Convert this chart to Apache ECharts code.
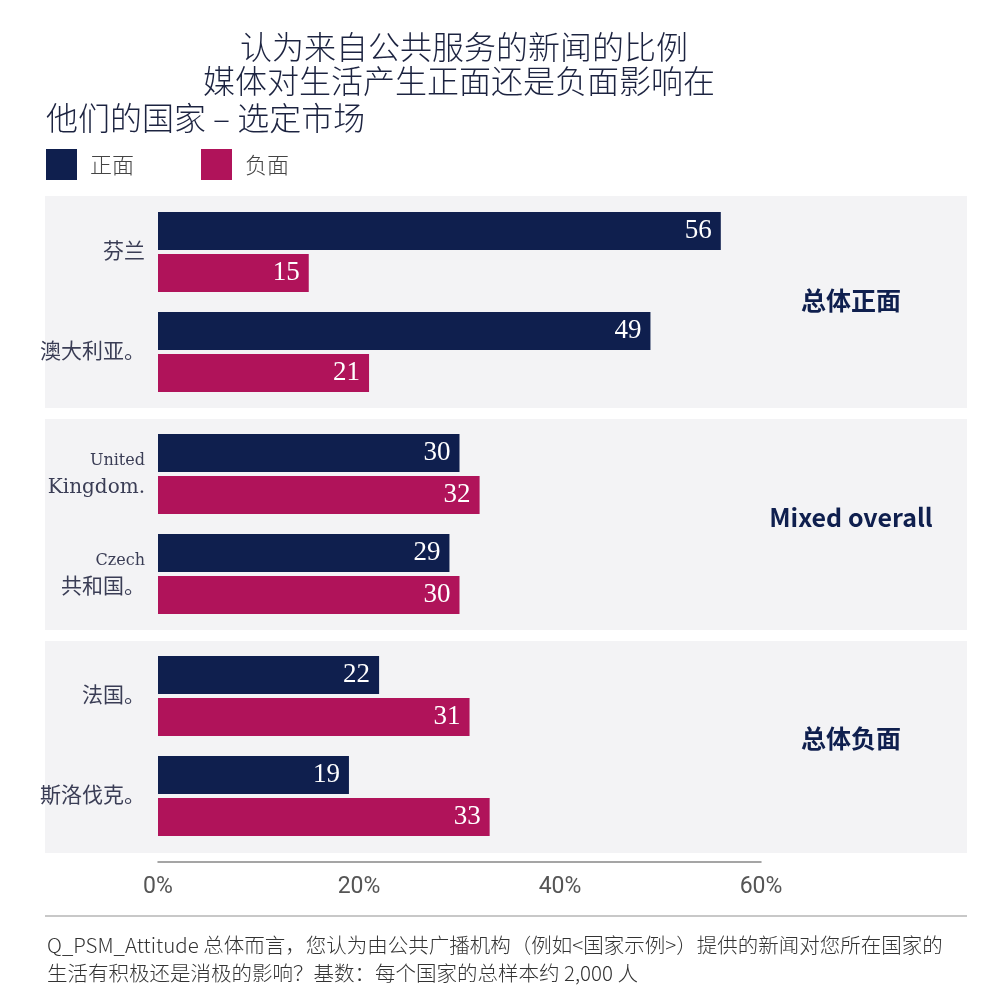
<!DOCTYPE html>
<html>
<head>
<meta charset="utf-8">
<script src="https://cdn.jsdelivr.net/npm/echarts@6/dist/echarts.min.js"></script>
<style>
  html, body { margin: 0; padding: 0; background: #fff; }
  #chart { width: 987px; height: 997px; }
</style>
</head>
<body>
<div id="chart"></div>
<script>
(function () {
  // 数据
  var groupNames = ['总体正面', 'Mixed overall', '总体负面'];
  var countries = [
    ['芬兰', '澳大利亚。'],
    ['United Kingdom.', 'Czech 共和国。'],
    ['法国。', '斯洛伐克。']
  ];
  var positive = [[56, 49], [30, 29], [22, 19]];
  var negative = [[15, 21], [32, 30], [31, 33]];
  var seriesNames = ['正面', '负面'];
  var xTicks = [0, 20, 40, 60];

  var NAVY = '#0f1f4e';
  var MAGENTA = '#b0135a';
  var PANEL = '#f3f3f5';
  var SERIF = '"Liberation Serif", "DejaVu Serif", "Noto Sans CJK SC", serif';
  var LATIN_SERIF = '"DejaVu Serif", "Liberation Serif", "Noto Sans CJK SC", serif';
  var CJK = '"Noto Sans CJK SC", sans-serif';

  var panelTops = [196, 419, 641];
  var panelHeights = [212, 211, 212];
  var groupLabelY = [300, 517, 738];
  var gridTops = [202, 424, 646];

  var chart = echarts.init(document.getElementById('chart'));

  function countryLabel(value) {
    var parts = value.split(' ');
    if (parts.length > 1) {
      var rest = parts.slice(1).join(' ');
      var style = /[A-Za-z]/.test(rest) ? 'll' : 'l';
      return '{s|' + parts[0] + '}\n{' + style + '|' + rest + '}';
    }
    return '{l|' + value + '}';
  }

  var grids = [];
  var xAxes = [];
  var yAxes = [];
  var series = [];
  var graphics = [];

  panelTops.forEach(function (top, i) {
    graphics.push({
      type: 'rect',
      z: -10,
      shape: { x: 45, y: top, width: 922, height: panelHeights[i] },
      style: { fill: PANEL }
    });
    graphics.push({
      type: 'text',
      x: 851,
      y: groupLabelY[i],
      style: {
        text: groupNames[i],
        fill: NAVY,
        font: 'bold 25px ' + CJK,
        textAlign: 'center',
        textVerticalAlign: 'middle'
      }
    });
  });

  gridTops.forEach(function (top, i) {
    var isLast = i === gridTops.length - 1;
    grids.push({ left: 158, width: 603, top: top, height: 200, containLabel: false });
    xAxes.push({
      gridIndex: i,
      type: 'value',
      min: 0,
      max: 60,
      interval: 20,
      show: isLast,
      offset: 16,
      axisLine: { show: true, lineStyle: { color: '#888', width: 1.5 } },
      axisTick: { show: false },
      splitLine: { show: false },
      axisLabel: {
        formatter: function (v) { return xTicks.indexOf(v) >= 0 ? v + '%' : ''; },
        color: '#555',
        fontSize: 23,
        fontFamily: '"Liberation Sans Narrow", "Roboto", sans-serif',
        margin: 14
      }
    });
    yAxes.push({
      gridIndex: i,
      type: 'category',
      inverse: true,
      data: countries[i],
      axisLine: { show: false },
      axisTick: { show: false },
      axisLabel: {
        margin: 13,
        formatter: countryLabel,
        rich: {
          s: { fontSize: 16, fontFamily: LATIN_SERIF, color: '#3a3d55', align: 'right', lineHeight: 27 },
          ll: { fontSize: 20, fontFamily: LATIN_SERIF, color: '#3a3d55', align: 'right', lineHeight: 27 },
          l: { fontSize: 21, fontFamily: SERIF, color: '#3a3d55', align: 'right', lineHeight: 27 }
        }
      }
    });
    [positive[i], negative[i]].forEach(function (values, k) {
      series.push({
        name: seriesNames[k],
        type: 'bar',
        xAxisIndex: i,
        yAxisIndex: i,
        data: values,
        barWidth: 38,
        barGap: '11%',
        itemStyle: { color: k === 0 ? NAVY : MAGENTA },
        label: {
          show: true,
          position: 'insideRight',
          distance: 9,
          color: '#fff',
          fontSize: 27,
          fontFamily: SERIF
        }
      });
    });
  });

  // 标题
  var titleFont = '300 32px ' + CJK;
  graphics.push(
    {
      type: 'text', x: 464, y: 47,
      style: { text: '认为来自公共服务的新闻的比例', fill: '#1c2340', font: titleFont, textAlign: 'center', textVerticalAlign: 'middle' }
    },
    {
      type: 'text', x: 459, y: 81,
      style: { text: '媒体对生活产生正面还是负面影响在', fill: '#1c2340', font: titleFont, textAlign: 'center', textVerticalAlign: 'middle' }
    },
    {
      type: 'text', x: 46, y: 118,
      style: { text: '他们的国家 – 选定市场', fill: '#1c2340', font: titleFont, textAlign: 'left', textVerticalAlign: 'middle' }
    },
    {
      type: 'line',
      shape: { x1: 45, y1: 916, x2: 967, y2: 916 },
      style: { stroke: '#c8c8c8', lineWidth: 2 }
    },
    {
      type: 'text', x: 47, y: 945,
      style: {
        text: 'Q_PSM_Attitude 总体而言，您认为由公共广播机构（例如<国家示例>）提供的新闻对您所在国家的',
        fill: '#333', font: '300 20.5px ' + CJK, textVerticalAlign: 'middle'
      }
    },
    {
      type: 'text', x: 47, y: 973,
      style: {
        text: '生活有积极还是消极的影响？基数：每个国家的总样本约 2,000 人',
        fill: '#333', font: '300 20.5px ' + CJK, textVerticalAlign: 'middle'
      }
    }
  );

  chart.setOption({
    backgroundColor: '#fff',
    animation: false,
    legend: {
      data: seriesNames,
      left: 41,
      top: 144,
      icon: 'rect',
      itemWidth: 31,
      itemHeight: 31,
      itemGap: 67,
      textStyle: { fontSize: 22, color: '#444', fontFamily: CJK, fontWeight: 300, padding: [0, 0, 0, 8] }
    },
    grid: grids,
    xAxis: xAxes,
    yAxis: yAxes,
    series: series,
    graphic: graphics
  });
})();
</script>
</body>
</html>
